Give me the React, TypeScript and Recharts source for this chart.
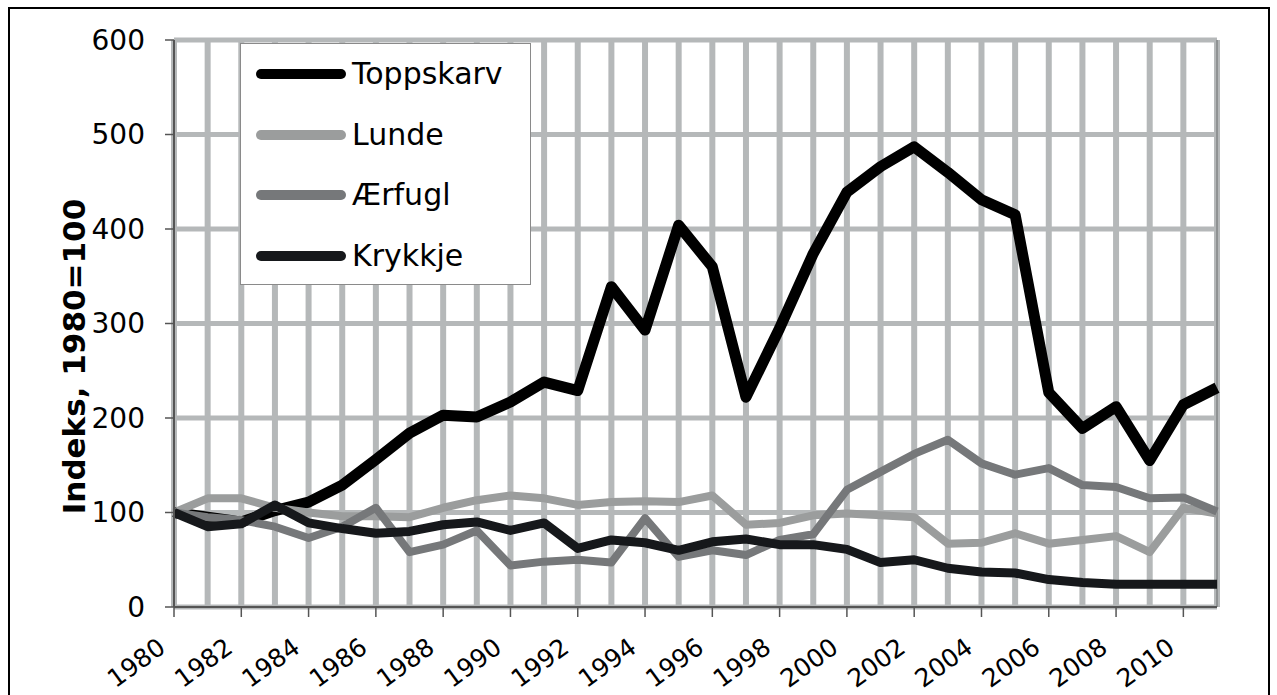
import React from "react";
import { CartesianGrid, Legend, Line, LineChart, XAxis, YAxis } from "recharts";

const years = [
  1980, 1981, 1982, 1983, 1984, 1985, 1986, 1987, 1988, 1989, 1990, 1991, 1992, 1993, 1994, 1995,
  1996, 1997, 1998, 1999, 2000, 2001, 2002, 2003, 2004, 2005, 2006, 2007, 2008, 2009, 2010, 2011,
];
const toppskarv = [
  100, 95, 90, 102, 111, 129, 156, 184, 203, 201, 217, 238, 229, 339, 293, 404,
  360, 222, 295, 374, 439, 466, 487, 460, 431, 415, 227, 189, 212, 155, 214, 232,
];
const lunde = [
  100, 115, 115, 105, 100, 96, 96, 95, 105, 113, 118, 115, 108, 111, 112, 111,
  118, 87, 89, 97, 99, 97, 95, 67, 68, 78, 67, 71, 75, 58, 105, 99,
];
const aerfugl = [
  100, 95, 92, 85, 73, 85, 105, 58, 66, 81, 44, 48, 50, 47, 94, 53,
  60, 55, 71, 77, 124, 143, 162, 177, 152, 140, 147, 129, 127, 115, 116, 101,
];
const krykkje = [
  100, 85, 88, 108, 89, 83, 78, 80, 87, 90, 81, 89, 62, 71, 68, 60,
  69, 72, 66, 66, 61, 47, 50, 41, 37, 36, 29, 26, 24, 24, 24, 24,
];
const seriesNames = ["Toppskarv", "Lunde", "Ærfugl", "Krykkje"];
const yTicks = [0, 100, 200, 300, 400, 500, 600];
const xTicks = [1980, 1982, 1984, 1986, 1988, 1990, 1992, 1994, 1996, 1998, 2000, 2002, 2004, 2006, 2008, 2010];
const gridYears = years.slice(1, -1);
const edgeYears = [2011];

const data = years.map((year, i) => ({
  year,
  toppskarv: toppskarv[i],
  lunde: lunde[i],
  aerfugl: aerfugl[i],
  krykkje: krykkje[i],
}));

const FONT = "'DejaVu Sans', sans-serif";

function YearTick({ x, y, payload }: any) {
  return (
    <g transform={`translate(${x},${y})`}>
      <text
        x={-7}
        y={32}
        textAnchor="end"
        transform="rotate(-36, -7, 32)"
        fontSize={25}
        fontFamily={FONT}
        fill="#000"
      >
        {payload.value}
      </text>
    </g>
  );
}

function LegendBox({ payload }: any) {
  const items = [...(payload || [])].sort(
    (a: any, b: any) => seriesNames.indexOf(a.value) - seriesNames.indexOf(b.value),
  );
  return (
    <div
      style={{
        width: 291,
        height: 242,
        boxSizing: "border-box",
        border: "1px solid #8a8a8a",
        background: "#fff",
      }}
    >
      {items.map((entry: any) => (
        <div key={entry.value} style={{ height: 60.5, display: "flex", alignItems: "center" }}>
          <svg width={111} height={14} style={{ display: "block" }}>
            <line x1={20} y1={7} x2={100} y2={7} stroke={entry.color} strokeWidth={10} strokeLinecap="round" />
          </svg>
          <span style={{ fontFamily: FONT, fontSize: 30, lineHeight: 1, color: "#000" }}>{entry.value}</span>
        </div>
      ))}
    </div>
  );
}

function AxisLabel({ viewBox }: any) {
  const cy = viewBox.y + viewBox.height / 2 + 33;
  return (
    <text
      x={85}
      y={cy}
      transform={`rotate(-90, 85, ${cy})`}
      textAnchor="middle"
      fontSize={31}
      fontWeight="bold"
      fontFamily={FONT}
      fill="#000"
    >
      Indeks, 1980=100
    </text>
  );
}

export default function App() {
  return (
    <div style={{ position: "fixed", left: 0, top: 0, width: 1277, height: 695, background: "#fff", overflow: "hidden" }}>
      <div
        style={{
          position: "absolute",
          left: 8,
          top: 7,
          width: 1262,
          height: 720,
          border: "2px solid #000",
          boxSizing: "border-box",
        }}
      />
      <div style={{ position: "absolute", left: 0, top: 0 }}>
        <LineChart width={1277} height={695} data={data} margin={{ top: 40, right: 60, left: 0, bottom: 8 }}>
          <CartesianGrid vertical={false} stroke="#b5b8b9" strokeWidth={5} strokeOpacity={1} />
          <CartesianGrid horizontal={false} xAxisId="grid" stroke="#b5b8b9" strokeWidth={6} />
          <CartesianGrid horizontal={false} xAxisId="edge" stroke="#8f9293" strokeWidth={2} />
          <XAxis xAxisId="grid" dataKey="year" type="number" domain={[1980, 2011]} ticks={gridYears} interval={0} hide />
          <XAxis xAxisId="edge" dataKey="year" type="number" domain={[1980, 2011]} ticks={edgeYears} interval={0} hide />
          <XAxis
            dataKey="year"
            type="number"
            domain={[1980, 2011]}
            ticks={xTicks}
            interval={0}
            height={80}
            tickSize={10}
            axisLine={{ stroke: "#555", strokeWidth: 2 }}
            tickLine={{ stroke: "#555", strokeWidth: 1.5 }}
            tick={<YearTick />}
          />
          <YAxis
            width={174}
            domain={[0, 600]}
            ticks={yTicks}
            interval={0}
            tickSize={9}
            tickMargin={20}
            axisLine={{ stroke: "#555", strokeWidth: 2 }}
            tickLine={{ stroke: "#555", strokeWidth: 1.5 }}
            tick={{ fontSize: 28, fill: "#000", fontFamily: FONT }}
            label={<AxisLabel />}
          />
          <Legend
            layout="vertical"
            align="center"
            verticalAlign="middle"
            wrapperStyle={{ left: 240, top: 43, width: 291, height: 242 }}
            content={<LegendBox />}
          />
          <Line name="Toppskarv" dataKey="toppskarv" type="linear" stroke="#000000" strokeWidth={11} dot={false} strokeLinejoin="round" isAnimationActive={false} />
          <Line name="Lunde" dataKey="lunde" type="linear" stroke="#9b9d9d" strokeWidth={8} dot={false} strokeLinejoin="round" isAnimationActive={false} />
          <Line name="Ærfugl" dataKey="aerfugl" type="linear" stroke="#76787a" strokeWidth={8} dot={false} strokeLinejoin="round" isAnimationActive={false} />
          <Line name="Krykkje" dataKey="krykkje" type="linear" stroke="#16181b" strokeWidth={9} dot={false} strokeLinejoin="round" isAnimationActive={false} />
        </LineChart>
      </div>
    </div>
  );
}
